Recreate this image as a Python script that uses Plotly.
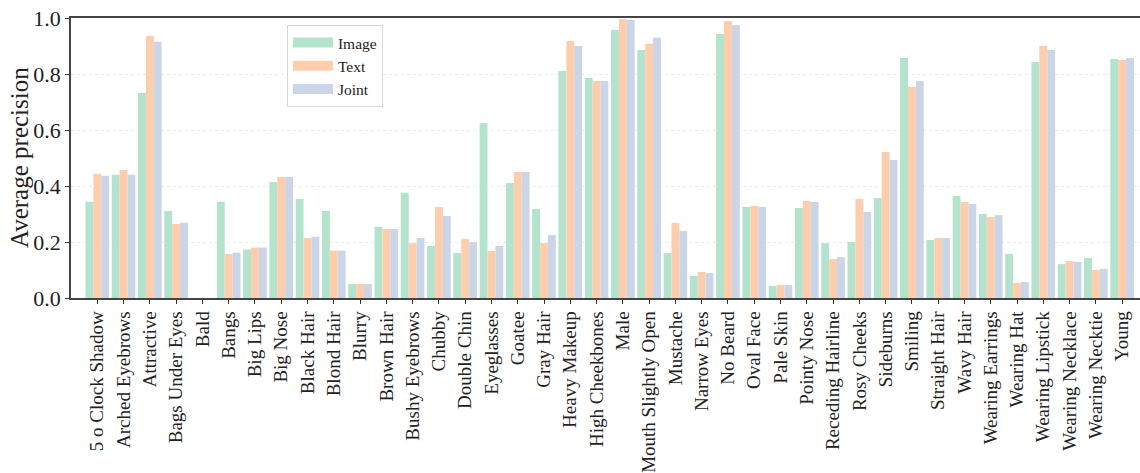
import plotly.graph_objects as go

attributes = [
    "5 o Clock Shadow", "Arched Eyebrows", "Attractive", "Bags Under Eyes", "Bald",
    "Bangs", "Big Lips", "Big Nose", "Black Hair", "Blond Hair",
    "Blurry", "Brown Hair", "Bushy Eyebrows", "Chubby", "Double Chin",
    "Eyeglasses", "Goatee", "Gray Hair", "Heavy Makeup", "High Cheekbones",
    "Male", "Mouth Slightly Open", "Mustache", "Narrow Eyes", "No Beard",
    "Oval Face", "Pale Skin", "Pointy Nose", "Receding Hairline", "Rosy Cheeks",
    "Sideburns", "Smiling", "Straight Hair", "Wavy Hair", "Wearing Earrings",
    "Wearing Hat", "Wearing Lipstick", "Wearing Necklace", "Wearing Necktie", "Young",
]

image_ap = [
    0.344, 0.440, 0.732, 0.311, 0.0,
    0.344, 0.173, 0.414, 0.354, 0.311,
    0.050, 0.254, 0.376, 0.186, 0.161,
    0.625, 0.411, 0.318, 0.811, 0.786,
    0.957, 0.886, 0.161, 0.079, 0.943,
    0.325, 0.043, 0.321, 0.196, 0.200,
    0.357, 0.857, 0.207, 0.364, 0.300,
    0.157, 0.843, 0.121, 0.143, 0.854,
]

text_ap = [
    0.444, 0.457, 0.937, 0.264, 0.0,
    0.157, 0.180, 0.432, 0.214, 0.169,
    0.050, 0.246, 0.196, 0.325, 0.211,
    0.168, 0.450, 0.196, 0.918, 0.775,
    0.996, 0.908, 0.268, 0.093, 0.989,
    0.329, 0.046, 0.346, 0.139, 0.354,
    0.521, 0.754, 0.214, 0.343, 0.289,
    0.054, 0.900, 0.132, 0.100, 0.850,
]

joint_ap = [
    0.437, 0.440, 0.915, 0.269, 0.0,
    0.162, 0.180, 0.432, 0.219, 0.169,
    0.050, 0.246, 0.214, 0.293, 0.200,
    0.186, 0.450, 0.225, 0.900, 0.775,
    0.993, 0.930, 0.239, 0.089, 0.975,
    0.325, 0.046, 0.343, 0.146, 0.307,
    0.493, 0.775, 0.214, 0.336, 0.296,
    0.057, 0.886, 0.129, 0.104, 0.857,
]

series = [
    ("Image", image_ap, "#b3e2cd"),
    ("Text", text_ap, "#fdcdac"),
    ("Joint", joint_ap, "#cbd5e8"),
]

FONT = "Liberation Serif"
INK = "#222222"

fig = go.Figure()
positions = list(range(len(attributes)))

for name, values, color in series:
    fig.add_trace(go.Bar(
        x=positions, y=values, name=name,
        marker=dict(color=color, line=dict(width=0)),
        showlegend=False,
    ))

# wide legend swatches via thick line entries
for name, values, color in series:
    fig.add_trace(go.Scatter(
        x=[None], y=[None], mode="lines", name=name,
        line=dict(color=color, width=12),
        showlegend=True,
    ))

fig.update_layout(
    width=1140, height=473,
    margin=dict(l=71, r=0, t=18, b=175),
    paper_bgcolor="white", plot_bgcolor="white",
    barmode="group", bargap=0.1, bargroupgap=0.0,
    font=dict(family=FONT, color=INK, size=16),
    legend=dict(
        x=0.202, y=0.975, xanchor="left", yanchor="top",
        bgcolor="rgba(255,255,255,0.9)", bordercolor="#d6d6d6", borderwidth=1,
        font=dict(family=FONT, size=15.5, color=INK),
        itemwidth=40, tracegroupgap=0,
    ),
    xaxis=dict(
        range=[-1.0, 39.68], automargin=False,
        tickmode="array", tickvals=positions, ticktext=attributes,
        tickangle=-90, tickfont=dict(family=FONT, size=19, color=INK),
        ticks="outside", ticklen=4, tickcolor="#333333", tickwidth=1,
        showline=True, linecolor="#444444", linewidth=1.5, mirror=True,
        showgrid=False, zeroline=False,
    ),
    yaxis=dict(
        range=[0, 1.0], automargin=False,
        tickmode="array", tickvals=[0, 0.2, 0.4, 0.6, 0.8, 1.0],
        ticktext=["0.0", "0.2", "0.4", "0.6", "0.8", "1.0"],
        tickfont=dict(family=FONT, size=22, color=INK),
        ticks="outside", ticklen=4, tickcolor="#333333", tickwidth=1,
        showline=True, linecolor="#444444", linewidth=1.5,
        showgrid=True, gridcolor="#ebebeb", griddash="dot", gridwidth=1,
        zeroline=False,
    ),
    annotations=[dict(
        text="Average precision", textangle=-90,
        xref="paper", yref="paper", x=0, y=0.5, xshift=-52,
        xanchor="center", yanchor="middle", showarrow=False,
        font=dict(family=FONT, size=25, color=INK),
    )],
)

fig.write_html("out.html")
